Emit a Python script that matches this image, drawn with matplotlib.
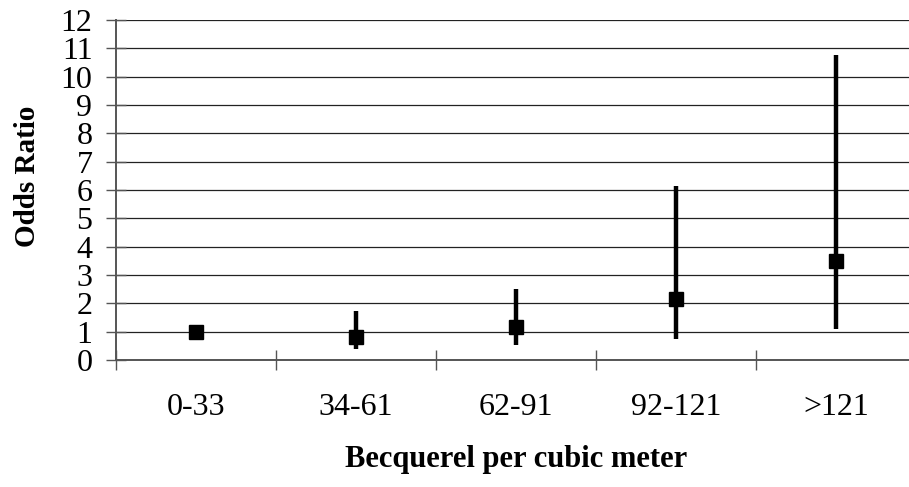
import matplotlib
matplotlib.use("Agg")
import matplotlib.pyplot as plt
import numpy as np

# odds ratio by radon concentration band
categories = ['0-33', '34-61', '62-91', '92-121', '>121']
odds_ratio = [1.0, 0.82, 1.15, 2.15, 3.5]
ci_low = [1.0, 0.38, 0.53, 0.74, 1.09]
ci_high = [1.0, 1.74, 2.5, 6.15, 10.75]

plt.rcParams['font.family'] = ['Liberation Serif', 'DejaVu Serif']

fig = plt.figure(figsize=(9.09, 4.87), dpi=100)
ax = fig.add_axes([116 / 909, 127 / 487, 800 / 909, 340 / 487])

x = np.arange(len(categories))
ax.vlines(x, ci_low, ci_high, color='black', lw=3.2, zorder=3)
ax.plot(x, odds_ratio, 's', color='black', markersize=10.5, zorder=4)

ax.set_xlim(-0.5, len(categories) - 0.5)
ax.set_ylim(0, 12)
ax.set_yticks(range(0, 13))
ax.yaxis.grid(True, color='#222222', lw=0.9)
ax.set_axisbelow(True)

# boundaries get tick marks, centres get the labels
ax.set_xticks(np.arange(-0.5, len(categories), 1.0))
ax.set_xticklabels([])
ax.set_xticks(x, minor=True)
ax.set_xticklabels(categories, minor=True, fontsize=23)
ax.tick_params(axis='x', which='major', direction='inout', length=14, width=1, color='#555555')
ax.tick_params(axis='x', which='minor', length=0, pad=24)
ax.tick_params(axis='y', direction='inout', length=14, width=1, color='#555555', labelsize=23, pad=10)

for s in ['top', 'right']:
    ax.spines[s].set_visible(False)
for s in ['left', 'bottom']:
    ax.spines[s].set_color('#555555')
    ax.spines[s].set_linewidth(1.4)

ax.set_ylabel('Odds Ratio', fontsize=21, fontweight='bold')
ax.yaxis.set_label_coords(-0.094, 0.54)
ax.set_xlabel('Becquerel per cubic meter', fontsize=22, fontweight='bold', labelpad=16)

fig.savefig('out.png', dpi=100)
